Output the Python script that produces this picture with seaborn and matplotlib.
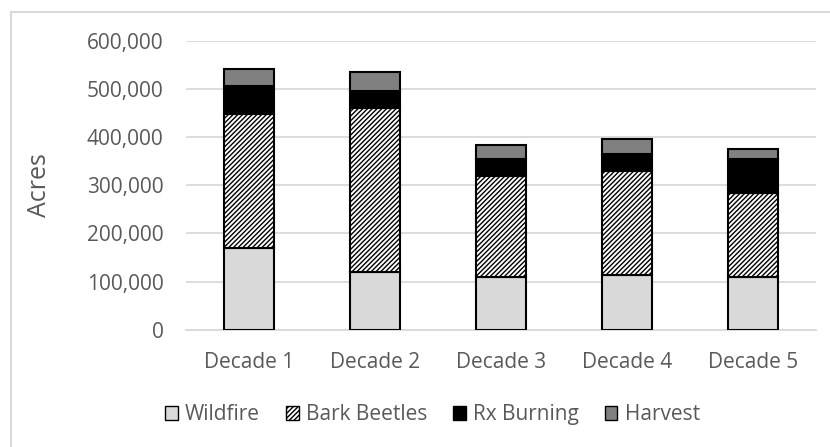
import matplotlib
matplotlib.use("Agg")
import matplotlib.pyplot as plt
from matplotlib.lines import Line2D
from matplotlib.patches import Patch
from matplotlib.ticker import FuncFormatter
import pandas
import seaborn

decades = ["Decade 1", "Decade 2", "Decade 3", "Decade 4", "Decade 5"]
wildfire = [169000, 120000, 109000, 113000, 110000]
bark_beetles = [278000, 340000, 211000, 217000, 175000]
rx_burning = [59000, 36000, 35000, 35000, 69000]
harvest = [35000, 38000, 29000, 30000, 21000]

series = [
    ("Wildfire", wildfire, "#d9d9d9", None),
    ("Bark Beetles", bark_beetles, "white", "///////"),
    ("Rx Burning", rx_burning, "black", None),
    ("Harvest", harvest, "#808080", None),
]

text_color = "#595959"
seaborn.set_theme(style="white")
plt.rcParams["font.family"] = ["Open Sans", "DejaVu Sans"]
plt.rcParams["hatch.linewidth"] = 1.0

fig = plt.figure(figsize=(8.3, 4.47), dpi=100)
ax = fig.add_axes([0.224, 0.262, 0.759, 0.647])

bottom = [0] * len(decades)
handles = []
for name, values, color, hatch in series:
    df = pandas.DataFrame({"decade": decades, "acres": values})
    seaborn.barplot(data=df, x="decade", y="acres", ax=ax, color=color,
                    bottom=bottom, width=0.4, edgecolor="black", linewidth=1.5,
                    hatch=hatch, saturation=1, zorder=3)
    bottom = [b + v for b, v in zip(bottom, values)]
    handles.append(Patch(facecolor=color, edgecolor="black", hatch=hatch, label=name))

ax.set_ylim(0, 600000)
ax.set_yticks(range(0, 600001, 100000))
ax.yaxis.set_major_formatter(FuncFormatter(lambda v, p: f"{int(v):,}"))
ax.grid(axis="y", color="#d9d9d9", linewidth=1.3, zorder=0)
ax.set_axisbelow(True)
for side in ["top", "right", "left"]:
    ax.spines[side].set_visible(False)
ax.spines["bottom"].set_color("#d9d9d9")
ax.spines["bottom"].set_linewidth(1.3)
ax.tick_params(axis="y", length=0, labelsize=15, colors=text_color, pad=16)
ax.tick_params(axis="x", length=0, labelsize=15, colors=text_color, pad=16)
ax.set_xlabel("")
ax.set_ylabel("Acres", fontsize=18, color=text_color, labelpad=25)

fig.legend(handles=handles, loc="center left", bbox_to_anchor=(0.199, 0.072), ncol=4,
           frameon=False, fontsize=15, labelcolor=text_color, handlelength=0.6,
           handleheight=0.6, handletextpad=0.35, columnspacing=1.25,
           borderpad=0, borderaxespad=0)

# chart frame: only the top and left edges show in the crop
x0, y0 = 10.5 / 830, 1 - 11.5 / 447
fig.add_artist(Line2D([x0, 1], [y0, y0], transform=fig.transFigure,
                      color="#d9d9d9", linewidth=1.5))
fig.add_artist(Line2D([x0, x0], [0, y0], transform=fig.transFigure,
                      color="#d9d9d9", linewidth=1.5))

fig.savefig("out.png", dpi=100)
